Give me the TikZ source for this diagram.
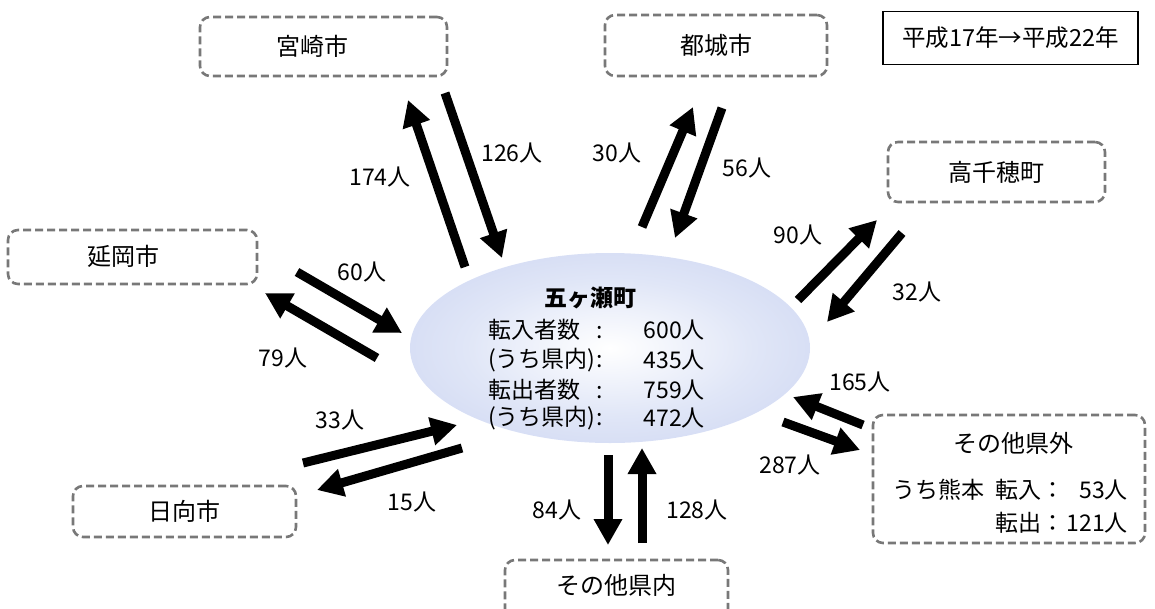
\documentclass[tikz,border=0pt]{standalone}
\usepackage{fontspec}
\setmainfont{Noto Sans CJK JP}
\usetikzlibrary{arrows.meta,shapes.geometric}
\definecolor{boxgray}{RGB}{120,120,120}
\definecolor{ellout}{RGB}{186,197,236}
\definecolor{ellmid}{RGB}{224,230,247}
\pgfdeclareradialshading{ellshade}{\pgfpoint{0bp}{0bp}}{color(0bp)=(white); color(18bp)=(ellmid); color(50bp)=(ellout)}
\begin{document}
\begin{tikzpicture}[x=1pt,y=-1pt,
  font=\fontsize{23}{27}\selectfont,
  placebox/.style={draw=boxgray, line width=2.6pt, dash pattern=on 8pt off 4pt,
    rounded corners=10pt, inner sep=0pt, font=\fontsize{24}{28}\selectfont},
  flow/.style={line width=9pt, -{Triangle[length=26pt,width=27pt]}},
  lbl/.style={inner sep=0pt},
  boxtxt/.style={inner sep=0pt, font=\fontsize{24}{28}\selectfont},
  elltxt/.style={inner sep=0pt, font=\fontsize{23}{27}\selectfont}]
\useasboundingbox (0,0) rectangle (1155,608);
\clip (0,0) rectangle (1155,608);

% central ellipse
\node[ellipse, shading=ellshade, minimum width=400pt, minimum height=190pt, inner sep=0pt] (town) at (610,348) {};
\node[elltxt, font=\fontsize{23}{27}\selectfont\bfseries] (ttl) at (590,298) {五ヶ瀬町};
\node[elltxt, anchor=west] (l1) at (488,330) {\makebox[108pt][l]{転入者数}:};
\node[elltxt, anchor=west] (l2) at (488,360) {\makebox[108pt][l]{(うち県内)}:};
\node[elltxt, anchor=west] (l3) at (488,390) {\makebox[108pt][l]{転出者数}:};
\node[elltxt, anchor=west] (l4) at (488,418) {\makebox[108pt][l]{(うち県内)}:};
\node[elltxt, anchor=east] (v1) at (705,330) {600人};
\node[elltxt, anchor=east] (v2) at (705,360) {435人};
\node[elltxt, anchor=east] (v3) at (705,390) {759人};
\node[elltxt, anchor=east] (v4) at (705,418) {472人};

% place boxes
\node[placebox, minimum width=247pt, minimum height=59pt] (miyazaki) at (323.5,46.5) {};
\node[boxtxt] (miyazakitxt) at (312,46) {宮崎市};
\node[placebox, minimum width=222pt, minimum height=61pt] (miyakonojo) at (716,45.5) {都城市};
\node[placebox, minimum width=217pt, minimum height=60pt] (takachiho) at (996.5,172) {高千穂町};
\node[placebox, minimum width=249pt, minimum height=54pt] (nobeoka) at (132.5,257) {};
\node[boxtxt] (nobeokatxt) at (123,256) {延岡市};
\node[placebox, minimum width=223pt, minimum height=51pt] (hyuga) at (184.5,511.5) {日向市};
\node[placebox, minimum width=223pt, minimum height=60pt] (kennai) at (616.5,590) {};
\node[boxtxt] (kennaitxt) at (616,585) {その他県内};
\node[placebox, minimum width=272pt, minimum height=128pt] (kengai) at (1009,479) {};
\node[boxtxt] (kengaitxt) at (1013,443) {その他県外};
\node[lbl, anchor=west] (kuma) at (892,490) {うち熊本};
\node[lbl, anchor=west] (kin) at (995,490) {転入：};
\node[lbl, anchor=east] (kinv) at (1128,490) {53人};
\node[lbl, anchor=west] (kout) at (995,523) {転出：};
\node[lbl, anchor=east] (koutv) at (1128,523) {121人};

% title box
\node[draw, line width=1.4pt, minimum width=255pt, minimum height=53pt, inner sep=0pt,
  font=\fontsize{23.5}{27}\selectfont] (period) at (1010.5,38) {平成17年→平成22年};

% flow arrows
\coordinate (a1t) at (465,267); \coordinate (a1h) at (408,100);
\coordinate (a2t) at (445,93);  \coordinate (a2h) at (502,258);
\coordinate (b1t) at (642,227); \coordinate (b1h) at (693,107);
\coordinate (b2t) at (722,108); \coordinate (b2h) at (675,238);
\coordinate (c1t) at (798,300); \coordinate (c1h) at (877,220);
\coordinate (c2t) at (902,233); \coordinate (c2h) at (827,322);
\coordinate (d1t) at (297,272); \coordinate (d1h) at (402,333);
\coordinate (d2t) at (377,358); \coordinate (d2h) at (265,293);
\coordinate (e1t) at (303,463); \coordinate (e1h) at (457,425);
\coordinate (e2t) at (462,448); \coordinate (e2h) at (317,490);
\coordinate (f1t) at (608,455); \coordinate (f1h) at (608,545);
\coordinate (f2t) at (642,543); \coordinate (f2h) at (642,448);
\coordinate (g1t) at (863,425); \coordinate (g1h) at (793,397);
\coordinate (g2t) at (783,422); \coordinate (g2h) at (860,450);
\foreach \s in {a1,a2,b1,b2,c1,c2,d1,d2,e1,e2,f1,f2,g1,g2}
  \draw[flow] (\s t) -- (\s h);

% flow labels
\node[lbl] (la1) at (380,177) {174人};
\node[lbl] (la2) at (512,153) {126人};
\node[lbl] (lb1) at (617,153) {30人};
\node[lbl] (lb2) at (747,168) {56人};
\node[lbl] (lc1) at (798,235) {90人};
\node[lbl] (lc2) at (917,292) {32人};
\node[lbl] (ld1) at (362,272) {60人};
\node[lbl] (ld2) at (283,358) {79人};
\node[lbl] (le1) at (340,420) {33人};
\node[lbl] (le2) at (412,502) {15人};
\node[lbl] (lf1) at (557,510) {84人};
\node[lbl] (lf2) at (697,510) {128人};
\node[lbl] (lg1) at (860,382) {165人};
\node[lbl] (lg2) at (790,465) {287人};
\end{tikzpicture}
\end{document}
